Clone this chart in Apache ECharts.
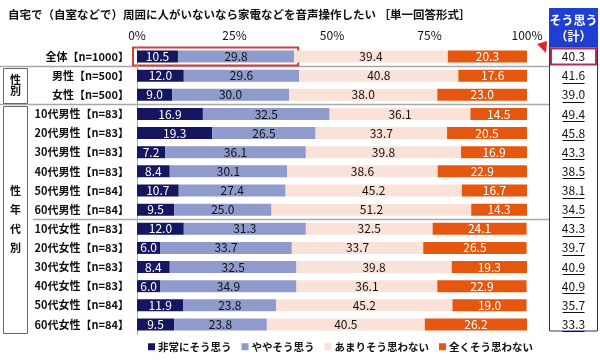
<!DOCTYPE html>
<html><head><meta charset="utf-8">
<script src="https://cdn.jsdelivr.net/npm/echarts@6/dist/echarts.min.js"></script>
<style>html,body{margin:0;padding:0;background:#fff}#c{width:600px;height:362px}</style>
</head><body><div id="c"></div>
<script>
const titleText = '自宅で（自室などで）周囲に人がいないなら家電などを音声操作したい ［単一回答形式］';
const categories = ['全体【n=1000】','男性【n=500】','女性【n=500】','10代男性【n=83】','20代男性【n=83】','30代男性【n=83】','40代男性【n=83】','50代男性【n=84】','60代男性【n=84】','10代女性【n=83】','20代女性【n=83】','30代女性【n=83】','40代女性【n=83】','50代女性【n=84】','60代女性【n=84】'];
const seriesNames = ['非常にそう思う','ややそう思う','あまりそう思わない','全くそう思わない'];
const very = [10.5,12.0,9.0,16.9,19.3,7.2,8.4,10.7,9.5,12.0,6.0,8.4,6.0,11.9,9.5];
const some = [29.8,29.6,30.0,32.5,26.5,36.1,30.1,27.4,25.0,31.3,33.7,32.5,34.9,23.8,23.8];
const notMuch = [39.4,40.8,38.0,36.1,33.7,39.8,38.6,45.2,51.2,32.5,33.7,39.8,36.1,45.2,40.5];
const notAtAll = [20.3,17.6,23.0,14.5,20.5,16.9,22.9,16.7,14.3,24.1,26.5,19.3,22.9,19.0,26.2];
const agreeTotal = [40.3,41.6,39.0,49.4,45.8,43.3,38.5,38.1,34.5,43.3,39.7,40.9,40.9,35.7,33.3];
const xTicks = [0,25,50,75,100];
const totalHeader = ['そう思う','（計）'];
const groupLabels = [{text:'性別', from:1, to:2}, {text:'性年代別', from:3, to:14}];

const FONT = '"Noto Sans CJK JP", "Noto Sans", sans-serif';
const colors = ['#15165f','#8e9bcc','#fbe2d9','#e5570f'];
const labelColors = ['#fff','#111','#111','#fff'];
const dataSets = [very, some, notMuch, notAtAll];

const chart = echarts.init(document.getElementById('c'), null, {renderer:'canvas'});
const option = {
  animation:false,
  textStyle:{fontFamily:FONT},
  title:{text:titleText, left:3, top:4, textStyle:{fontSize:11.5, fontWeight:'bold', color:'#111', fontFamily:FONT}},
  legend:{bottom:5, left:143, itemWidth:7, itemHeight:7, itemGap:10, icon:'rect',
    textStyle:{fontSize:10.5, fontWeight:'bold', color:'#111', fontFamily:FONT, padding:[0,0,0,-2]},
    data:seriesNames},
  grid:{left:137, right:73, top:47, bottom:28, containLabel:false},
  xAxis:{type:'value', position:'top', min:xTicks[0], max:xTicks[xTicks.length-1], interval:25,
    axisLine:{show:false}, axisTick:{show:false}, splitLine:{show:false},
    axisLabel:{formatter:'{value}%', fontSize:12, color:'#111', margin:6, fontFamily:FONT}},
  yAxis:{type:'category', inverse:true, data:categories,
    axisLine:{show:true, lineStyle:{color:'#aaa', width:1}}, axisTick:{show:false},
    axisLabel:{fontSize:11, fontWeight:'bold', color:'#111', margin:8, fontFamily:FONT}},
  series: dataSets.map((d,i)=>({
    name:seriesNames[i], type:'bar', stack:'s', barWidth:12, data:d,
    itemStyle:{color:colors[i]},
    label:{show:true, position:'inside', formatter:p=>p.value.toFixed(1), color:labelColors[i], fontSize:12, fontFamily:FONT}
  }))
};
chart.setOption(option);

// decorations computed from the axes
const yc = i => chart.convertToPixel({yAxisIndex:0}, i);
const xp = v => chart.convertToPixel({xAxisIndex:0}, v);
const step = yc(1) - yc(0);
const g = [];
const boxL = 549, boxR = 598, boxCx = (boxL+boxR)/2;
const sepAfter = [0, 2, 8];
sepAfter.forEach((r, k) => {
  const y = Math.round((yc(r)+yc(r+1))/2) + 0.5;
  g.push({type:'line', shape:{x1:(k===2?33:0), y1:y, x2:boxL, y2:y}, style:{stroke:'#a8a8a8', lineWidth:1.5}});
});
// left group boxes
groupLabels.forEach(gl => {
  const top = yc(gl.from) - step/2 + 2, bot = yc(gl.to) + step/2 - 1;
  g.push({type:'rect', shape:{x:3.5, y:Math.round(top)+0.5, width:24, height:Math.round(bot-top)}, style:{fill:'#fff', stroke:'#666', lineWidth:1}});
  const chars = gl.text.split('');
  const mid = (top+bot)/2, sp = chars.length>2 ? 19 : 11;
  chars.forEach((ch, j) => {
    g.push({type:'text', x:15.5, y:mid + (j-(chars.length-1)/2)*sp, style:{text:ch, font:'bold 11px '+FONT, fill:'#111', align:'center', verticalAlign:'middle'}});
  });
});
// right total column
const bodyTop = yc(0) - step/2, bodyBot = yc(categories.length-1) + step/2 - 3;
g.push({type:'rect', shape:{x:boxL, y:8, width:boxR-boxL, height:bodyTop-8}, style:{fill:'#1f3fd2'}});
g.push({type:'text', x:boxCx, y:20, style:{text:totalHeader[0], font:'bold 12px '+FONT, fill:'#fff', align:'center', verticalAlign:'middle'}});
g.push({type:'text', x:boxCx, y:36, style:{text:totalHeader[1], font:'bold 12px '+FONT, fill:'#fff', align:'center', verticalAlign:'middle'}});
g.push({type:'rect', shape:{x:boxL+0.5, y:bodyTop, width:boxR-boxL-1, height:bodyBot-bodyTop}, style:{fill:'none', stroke:'#2a2d85', lineWidth:1}});
agreeTotal.forEach((v,i) => {
  const y = yc(i);
  g.push({type:'text', x:boxCx, y:y, style:{text:v.toFixed(1), font:'12px '+FONT, fill:'#111', align:'center', verticalAlign:'middle'}});
  g.push({type:'line', shape:{x1:boxCx-11, y1:Math.round(y)+7.5, x2:boxCx+11, y2:Math.round(y)+7.5}, style:{stroke:'#111', lineWidth:1}});
});
// highlight for total row
const y0 = yc(0);
g.push({type:'rect', shape:{x:boxL+2, y:y0-8, width:boxR-boxL-4, height:16}, style:{fill:'none', stroke:'#b3304c', lineWidth:2}});
g.push({type:'rect', shape:{x:xp(0)-4, y:y0-9, width:xp(agreeTotal[0])-xp(0)+8, height:18}, style:{fill:'none', stroke:'#d0403c', lineWidth:2}});
g.push({type:'polygon', shape:{points:[[537,44],[547,41],[546,53]]}, style:{fill:'#e0202a'}});
chart.setOption({graphic:g});
</script></body></html>
